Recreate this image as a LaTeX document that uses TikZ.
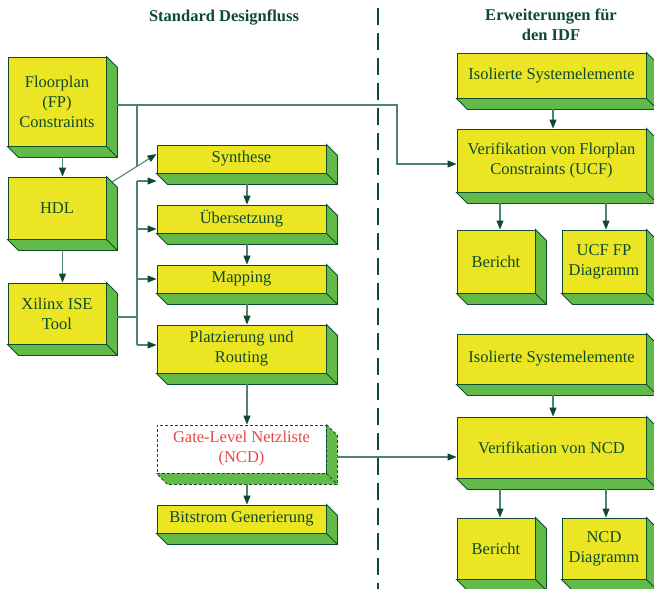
\documentclass[tikz,border=0pt]{standalone}
\usepackage{fontspec}
\setmainfont{Liberation Serif}
\usetikzlibrary{arrows.meta,calc,backgrounds}

\definecolor{boxyellow}{HTML}{ECE524}
\definecolor{boxgreen}{HTML}{62BB48}
\definecolor{dkgreen}{HTML}{0E4A2E}
\definecolor{linegreen}{HTML}{4E8566}
\definecolor{netred}{HTML}{E8474A}

\tikzset{
  stepbox/.style={draw=dkgreen, fill=boxyellow, line width=0.9pt, inner sep=0pt,
    align=center, text=dkgreen, font=\fontsize{16.5}{20}\selectfont},
  depth/.style={draw=dkgreen, fill=boxgreen, line width=0.9pt},
  conn/.style={draw=linegreen, line width=1.1pt},
  arr/.style={conn, -{Triangle[length=9pt,width=7pt,color=dkgreen]}},
  title/.style={align=center, text=dkgreen, font=\fontsize{16.5}{20}\selectfont\bfseries},
  sep/.style={draw=dkgreen, line width=2pt, dash pattern=on 17pt off 8pt}
}

\begin{document}
\begin{tikzpicture}[x=1pt,y=-1pt]
\useasboundingbox (0,0) rectangle (654,589);
\clip (0,0) rectangle (654,589);

% Titel und Trennlinie
\node[title] (ttl1) at (224,18) {Standard Designfluss};
\node[title] (ttl2) at (551,25) {Erweiterungen für\\den IDF};
\draw[sep] (378,8) -- (378,592);

% linke Spalte
\node[stepbox, minimum width=98pt, minimum height=89pt] (fp) at (57,101.5) {Floorplan\\(FP)\\Constraints};
\node[stepbox, minimum width=98pt, minimum height=62pt] (hdl) at (57,208) {HDL};
\node[stepbox, minimum width=98pt, minimum height=61pt] (ise) at (57,313.5) {Xilinx ISE\\Tool};

% Standard Designfluss
\node[stepbox, minimum width=169pt, minimum height=28pt] (syn) at (241.5,159) {Synthese};
\node[stepbox, minimum width=169pt, minimum height=28pt] (ueb) at (241.5,219) {Übersetzung};
\node[stepbox, minimum width=169pt, minimum height=28pt] (map) at (241.5,279) {Mapping};
\node[stepbox, minimum width=169pt, minimum height=48pt] (place) at (241.5,349) {Platzierung und\\Routing};
\node[stepbox, minimum width=169pt, minimum height=48pt, fill=white, densely dashed,
  text=netred] (gate) at (241.5,449) {Gate-Level Netzliste\\(NCD)};
\node[stepbox, minimum width=169pt, minimum height=28pt] (bit) at (241.5,519) {Bitstrom Generierung};

% Erweiterungen
\node[stepbox, minimum width=189pt, minimum height=45pt] (iso1) at (551.5,75.5) {Isolierte Systemelemente};
\node[stepbox, minimum width=189pt, minimum height=63pt] (vucf) at (551.5,160.5) {Verifikation von Florplan\\Constraints (UCF)};
\node[stepbox, minimum width=78pt, minimum height=63pt] (ber1) at (496,261.5) {Bericht};
\node[stepbox, minimum width=84pt, minimum height=63pt] (ucffp) at (604,261.5) {UCF FP\\Diagramm};
\node[stepbox, minimum width=189pt, minimum height=50pt] (iso2) at (551.5,359) {Isolierte Systemelemente};
\node[stepbox, minimum width=189pt, minimum height=61pt] (vncd) at (551.5,447.5) {Verifikation von NCD};
\node[stepbox, minimum width=78pt, minimum height=61pt] (ber2) at (496,548.5) {Bericht};
\node[stepbox, minimum width=84pt, minimum height=61pt] (ncdd) at (604,548.5) {NCD\\Diagramm};

% 3D-Tiefe
\begin{scope}[on background layer]
\foreach \n in {fp,hdl,ise,syn,ueb,map,place,bit,iso1,vucf,ber1,ucffp,iso2,vncd,ber2,ncdd}
  \filldraw[depth] (\n.north east) -- ++(11,11) -- ($(\n.south east)+(11,11)$)
    -- ($(\n.south west)+(11,11)$) -- (\n.south west) -- (\n.south east) -- cycle
    (\n.south east) -- ++(11,11);
\filldraw[depth, densely dashed] (gate.north east) -- ++(11,11) -- ($(gate.south east)+(11,11)$)
    -- ($(gate.south west)+(11,11)$) -- (gate.south west) -- (gate.south east) -- cycle
    (gate.south east) -- ++(11,11);
\end{scope}

% Verbindungen links
\draw[arr] ($(fp.south)+(5.5,11)$) -- ([xshift=5.5pt]hdl.north);
\draw[arr] ($(ise.north |- hdl.south)+(5.5,11)$) -- ([xshift=5.5pt]ise.north);
\coordinate (fptap) at (137,105);
\coordinate (tapend) at (137,166);
\draw[arr] ($(fp.east)+(11,3.5)$) -| (397,164) -- ([yshift=-3.5pt]vucf.west);
\draw[conn] (fptap) -- (tapend);
\draw[arr] ($(hdl.north east)+(5.5,5.5)$) -- ([yshift=5pt]syn.west);

% Bus von Xilinx ISE
\coordinate (bus) at (137,317);
\coordinate (bustop) at (137,181);
\coordinate (busbot) at (137,345);
\draw[conn] ($(ise.east)+(11,3.5)$) -- (bus);
\draw[conn] (bustop) -- (busbot);
\draw[arr] (bustop) -- (bustop -| syn.west);
\draw[arr] ([yshift=-10pt]ueb.west -| bus) -- ([yshift=-10pt]ueb.west);
\draw[arr] (map.west -| bus) -- (map.west);
\draw[arr] (busbot) -- (busbot -| place.west);

% Designfluss
\foreach \a/\b in {syn/ueb,ueb/map,map/place,place/gate,gate/bit}
  \draw[arr] ($(\a.south)+(5.5,11)$) -- ([xshift=5.5pt]\b.north);
\draw[arr] ($(gate.east)+(11,8)$) -- ([yshift=-9.5pt]vncd.west);

% Erweiterungen
\draw[arr] ($(iso1.south)+(1.5,11)$) -- ([xshift=1.5pt]vucf.north);
\draw[arr] ($(ber1.north |- vucf.south)+(4,11)$) -- ([xshift=4pt]ber1.north);
\draw[arr] ($(ucffp.north |- vucf.south)+(2,11)$) -- ([xshift=2pt]ucffp.north);
\draw[arr] ($(iso2.south)+(1.5,11)$) -- ([xshift=1.5pt]vncd.north);
\draw[arr] ($(ber2.north |- vncd.south)+(4,11)$) -- ([xshift=4pt]ber2.north);
\draw[arr] ($(ncdd.north |- vncd.south)+(2,11)$) -- ([xshift=2pt]ncdd.north);
\end{tikzpicture}
\end{document}
